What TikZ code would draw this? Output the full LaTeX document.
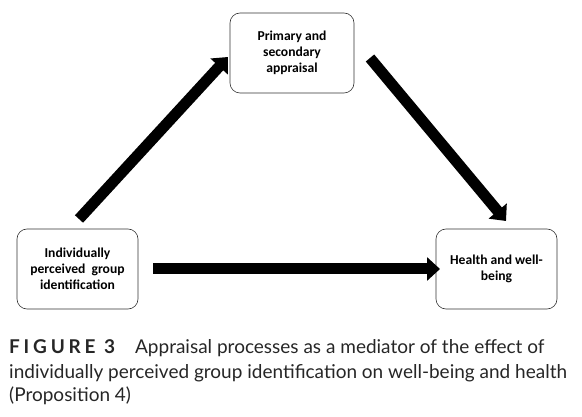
\documentclass[tikz,border=0pt]{standalone}
\usepackage{fontspec}
\setmainfont{Carlito}
\newfontfamily\capfont{Lato}
\usetikzlibrary{arrows.meta}
\begin{document}
\begin{tikzpicture}[x=1pt,y=-1pt,
  boxstyle/.style={draw=black!80, line width=0.6pt, rounded corners=10pt, fill=white,
    align=center, font=\fontsize{13.6}{16}\selectfont\bfseries, inner sep=0pt},
  bigarrow/.style={line width=11pt, -{Triangle[width=23pt,length=13pt]}, black}]
\useasboundingbox (0,0) rectangle (582,417);
\node[boxstyle, minimum width=124pt, minimum height=80pt] (top) at (292,53) {Primary and\\secondary\\appraisal};
\node[boxstyle, minimum width=121pt, minimum height=80pt] (left) at (77.5,269) {Individually\\perceived\ \ group\\identification};
\node[boxstyle, minimum width=121pt, minimum height=80pt] (right) at (496.5,269) {Health and well-\\being};
\coordinate (a1) at (79,219);
\coordinate (a2) at (228,57);
\coordinate (b1) at (370,58);
\coordinate (b2) at (506,221);
\coordinate (c1) at (153,269);
\coordinate (c2) at (440,269);
\draw[bigarrow] (a1) -- (a2);
\draw[bigarrow] (b1) -- (b2);
\draw[bigarrow] (c1) -- (c2);
\node[anchor=base west, inner sep=0pt, align=left, font=\capfont\fontsize{19}{24}\selectfont, text=black!85] (cap) at (9,402)
  {{\bfseries\addfontfeature{LetterSpace=20}FIGURE 3}\hspace{0.8em} Appraisal processes as a mediator of the effect of\\individually perceived group identification on well-being and health\\(Proposition 4)};
\end{tikzpicture}
\end{document}
